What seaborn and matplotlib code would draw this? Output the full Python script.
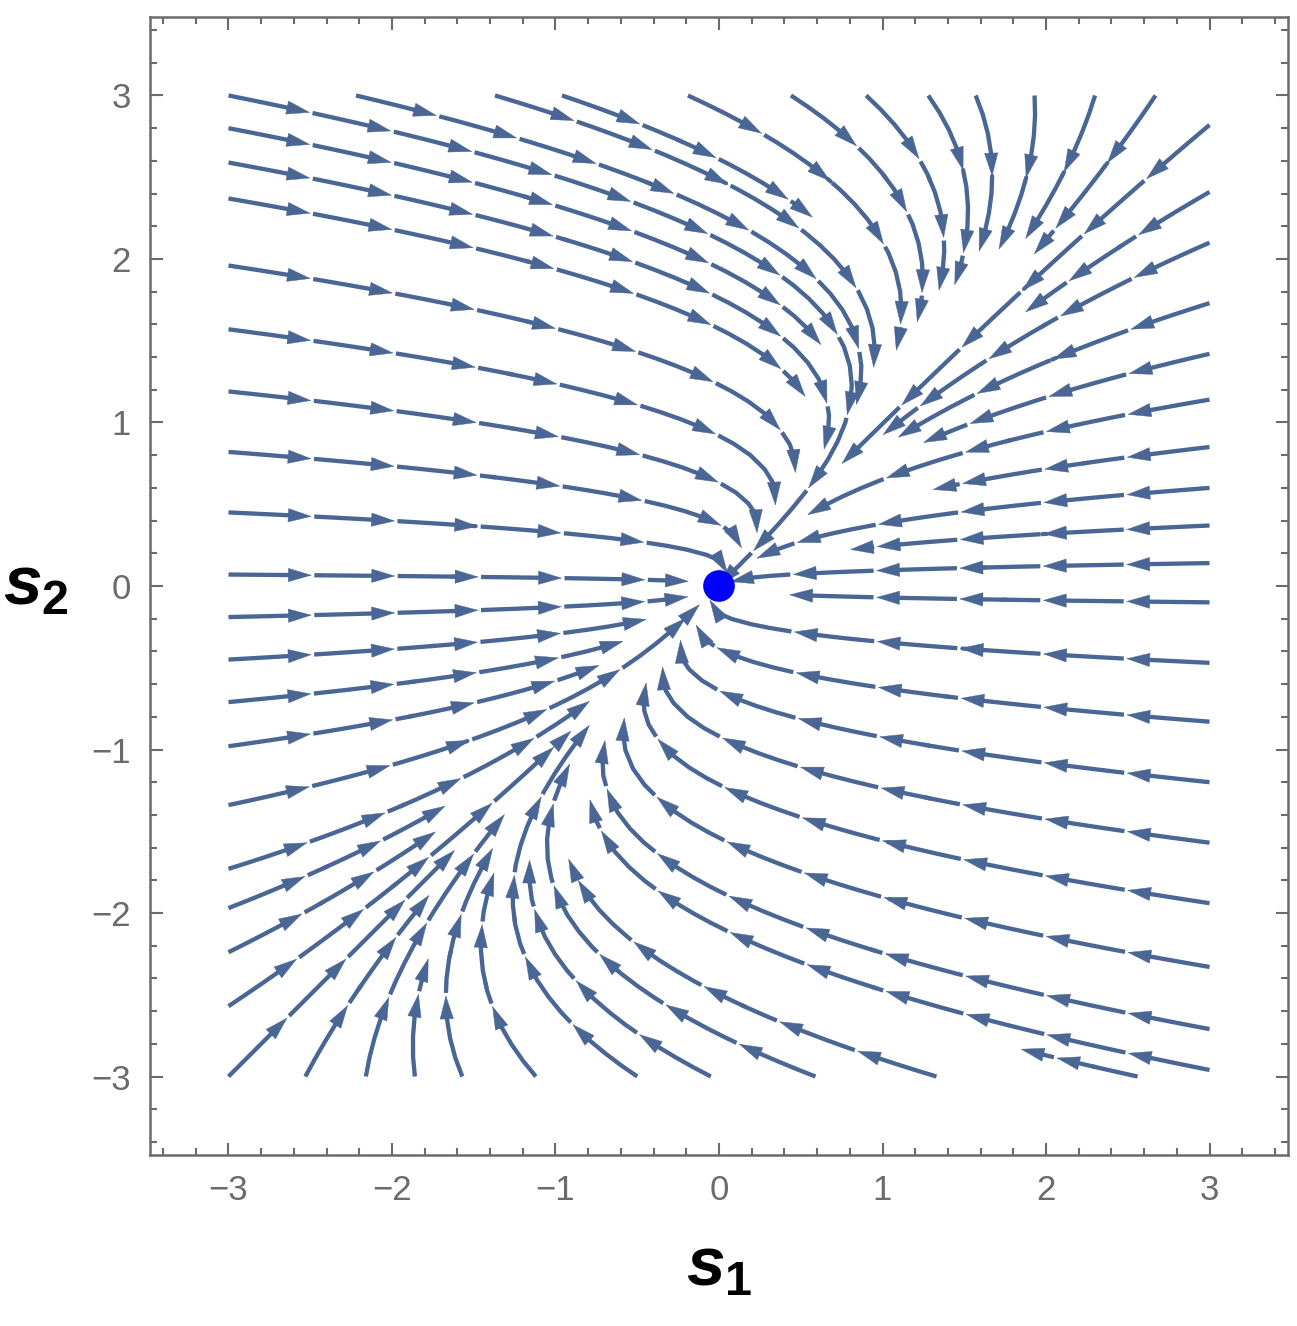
import numpy as np
import matplotlib
matplotlib.use("Agg")
import matplotlib.pyplot as plt
from matplotlib.patches import FancyArrowPatch
from matplotlib.collections import LineCollection
import seaborn as sns
import pandas as pd

# Linear system ds/dt = A s  (rows of A)
row_ds1 = [-3.0, 2.0]
row_ds2 = [0.0, -1.0]

# stream seeds (edges of the region)
left_s2 = [3.0, 2.8, 2.59, 2.37, 1.96, 1.57, 1.19, 0.82, 0.45, 0.07, -0.19, -0.45,
           -0.71, -0.98, -1.34, -1.73, -1.97, -2.24, -2.57]
right_s2 = [2.82, 2.41, 2.1, 1.73, 1.42, 1.14, 0.85, 0.6, 0.37, 0.14, -0.1, -0.47,
            -0.83, -1.2, -1.57, -1.94, -2.33, -2.71, -2.96]
top_s1 = [-2.22, -1.37, -0.96, -0.19, 0.44, 0.9, 1.28, 1.57, 1.93, 2.3, 2.67]
bottom_s1 = [-3.0, -2.53, -2.16, -1.86, -1.57, -1.12, -0.5, -0.05, 0.59, 1.33, 2.56]

fixed_point = pd.DataFrame({"s1": [0.0], "s2": [0.0]})
ticks = [-3, -2, -1, 0, 1, 2, 3]

stream_color = "#4a6694"
frame_color = "#6b6b6b"

sns.set_style("ticks")
plt.rcParams["font.family"] = ["Liberation Sans", "DejaVu Sans"]
plt.rcParams["mathtext.fontset"] = "custom"
plt.rcParams["mathtext.it"] = "Liberation Sans:italic:bold"
plt.rcParams["mathtext.bf"] = "Liberation Sans:bold"
plt.rcParams["mathtext.rm"] = "Liberation Sans:bold"

fig = plt.figure(figsize=(12.97, 13.26), dpi=100)
ax = fig.add_axes([150 / 1297, 1 - 1155 / 1326, (1288 - 150) / 1297, (1155 - 17) / 1326])

g = np.linspace(-3, 3, 201)
X, Y = np.meshgrid(g, g)
U = row_ds1[0] * X + row_ds1[1] * Y
V = row_ds2[0] * X + row_ds2[1] * Y

eps = 1e-6
seeds = ([[-3 + eps, v] for v in left_s2] + [[3 - eps, v] for v in right_s2] +
         [[u, 3 - eps] for u in top_s1] + [[u, -3 + eps] for u in bottom_s1])
seeds = np.clip(np.array(seeds), -3 + eps, 3 - eps)

sp = ax.streamplot(X, Y, U, V, color=stream_color, linewidth=3.0, density=1.65,
                   arrowstyle="-", start_points=seeds,
                   integration_direction="both", broken_streamlines=True)
sp.arrows.set_visible(False)
sp.lines.set_visible(False)

# trajectories from the streamplot result (handles both storage formats)
segs = [np.asarray(s) for s in sp.lines.get_segments()]
trajs = []
if segs and all(len(s) == 2 for s in segs):
    cur = None
    for s in segs:
        if cur is not None and np.allclose(cur[-1], s[0]):
            cur.append(s[1])
        else:
            if cur is not None:
                trajs.append(np.array(cur))
            cur = [s[0], s[1]]
    if cur is not None:
        trajs.append(np.array(cur))
else:
    trajs = segs


def piece(t, cum, a, b):
    inner = (cum > a) & (cum < b)
    xs = np.concatenate([[np.interp(a, cum, t[:, 0])], t[inner, 0], [np.interp(b, cum, t[:, 0])]])
    ys = np.concatenate([[np.interp(a, cum, t[:, 1])], t[inner, 1], [np.interp(b, cum, t[:, 1])]])
    return np.column_stack([xs, ys])


spacing, gap, head_back = 0.51, 0.015, 0.08
pieces = []
for t in trajs:
    d = np.hypot(np.diff(t[:, 0]), np.diff(t[:, 1]))
    keep = np.concatenate([[True], d > 1e-9])
    t = t[keep]
    cum = np.concatenate([[0], np.cumsum(np.hypot(np.diff(t[:, 0]), np.diff(t[:, 1])))])
    L = cum[-1]
    if L < 0.12:
        continue
    tips = list(np.arange(spacing, L - 0.1, spacing))
    tips.append(L)
    start = 0.0
    for s_tip in tips:
        if s_tip - start > head_back + 0.01:
            pieces.append(piece(t, cum, start, s_tip - head_back))
        s_tail = max(s_tip - 0.1, start)
        tip = (np.interp(s_tip, cum, t[:, 0]), np.interp(s_tip, cum, t[:, 1]))
        tail = (np.interp(s_tail, cum, t[:, 0]), np.interp(s_tail, cum, t[:, 1]))
        ar = FancyArrowPatch(tail, tip, arrowstyle="-|>,head_length=0.82,head_width=0.24",
                             mutation_scale=20, color=stream_color, lw=0.3,
                             shrinkA=0, shrinkB=0, zorder=3)
        ax.add_patch(ar)
        start = s_tip + gap

ax.add_collection(LineCollection(pieces, colors=stream_color, linewidths=3.1,
                                 capstyle="butt", zorder=2))

sns.scatterplot(data=fixed_point, x="s1", y="s2", ax=ax, color="#0000ff", s=520,
                edgecolor="none", zorder=5)

ax.set_xlim(-3.48, 3.48)
ax.set_ylim(-3.48, 3.48)
ax.set_xticks(ticks)
ax.set_yticks(ticks)
ax.set_xticklabels([str(t).replace("-", "\u2212") for t in ticks])
ax.set_yticklabels([str(t).replace("-", "\u2212") for t in ticks])
ax.set_xticks(np.arange(-3.4, 3.41, 0.2), minor=True)
ax.set_yticks(np.arange(-3.4, 3.41, 0.2), minor=True)
ax.tick_params(which="both", direction="in", top=True, right=True,
               color=frame_color, labelcolor=frame_color, labelsize=25, width=1.5)
ax.tick_params(which="major", length=9, pad=14)
ax.tick_params(which="minor", length=5)
for spn in ax.spines.values():
    spn.set_color(frame_color)
    spn.set_linewidth(1.8)

ax.set_xlabel(r"$\mathit{s}_{\mathbf{1}}$", fontsize=50, color="black", labelpad=20)
ax.set_ylabel(r"$\mathit{s}_{\mathbf{2}}$", fontsize=50, color="black", rotation=0,
              labelpad=40, va="center")

fig.savefig("out.png", dpi=100)
